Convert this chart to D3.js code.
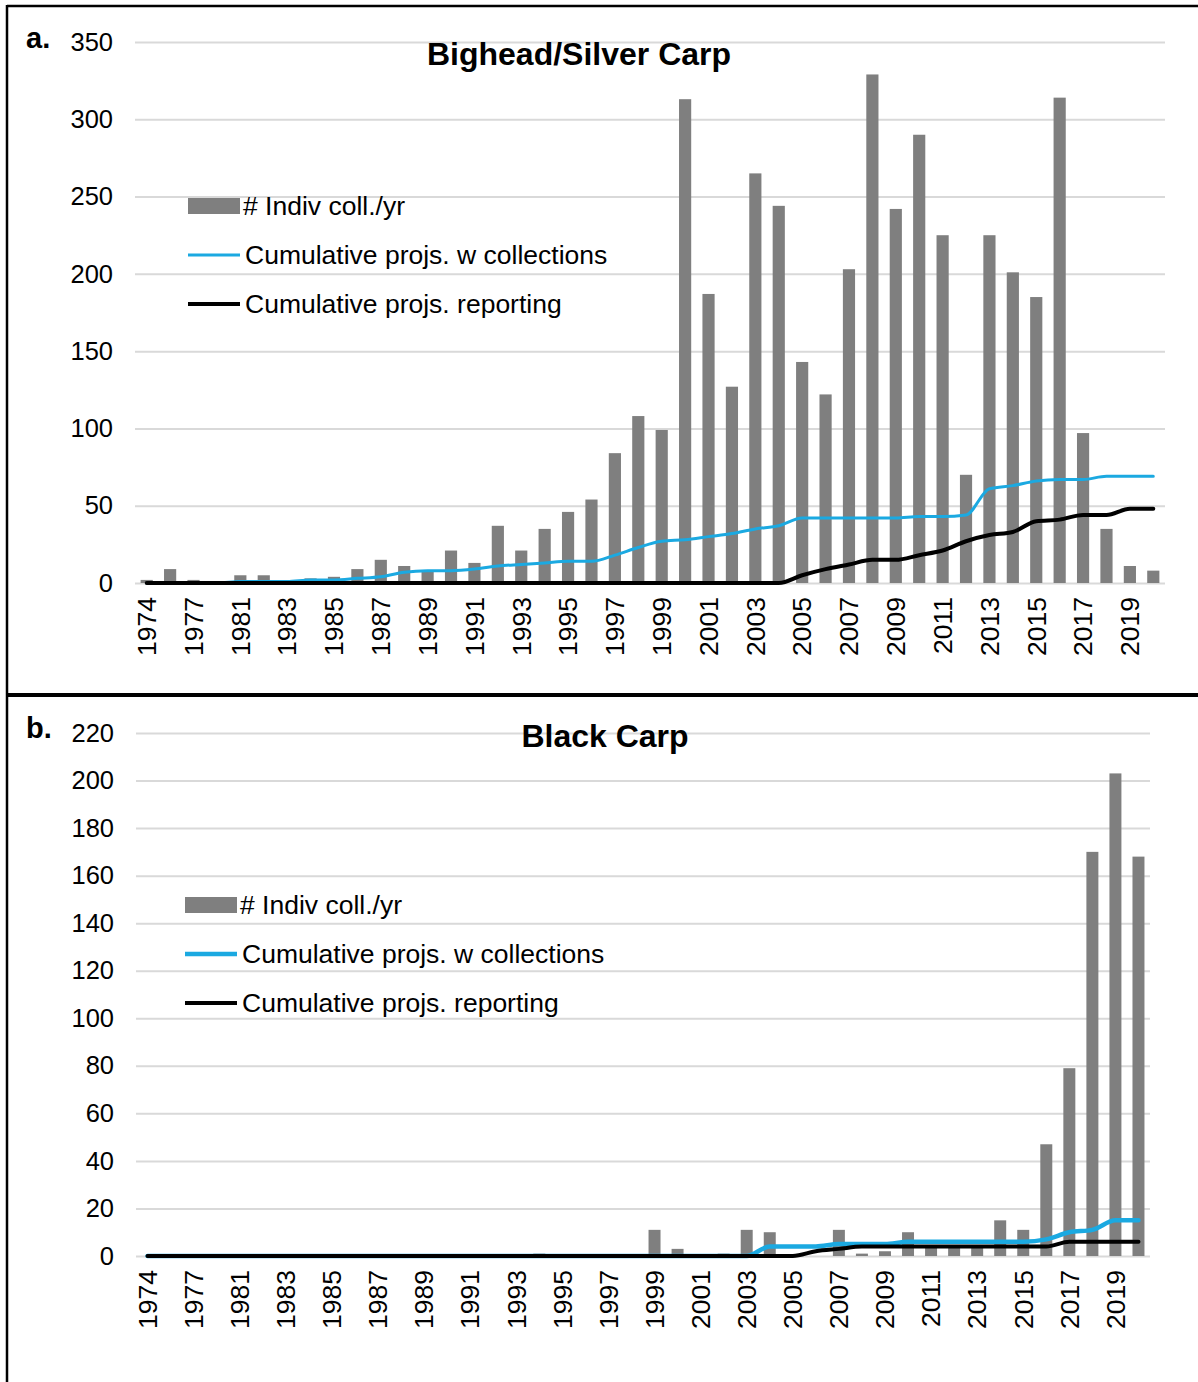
<!DOCTYPE html>
<html>
<head>
<meta charset="utf-8">
<script src="https://cdn.jsdelivr.net/npm/d3@7"></script>
<style>
  body { margin: 0; background: #fff; }
  svg { display: block; font-family: "Liberation Sans", Arial, sans-serif; }
</style>
</head>
<body>
<svg id="chart" width="1198" height="1382"></svg>
<script>
// categories (two years between 1974 and 1981 have hidden labels)
const years = ["1974", "1976", "1977", "1979", "1981", "1982", "1983", "1984", "1985", "1986",
  "1987", "1988", "1989", "1990", "1991", "1992", "1993", "1994", "1995", "1996",
  "1997", "1998", "1999", "2000", "2001", "2002", "2003", "2004", "2005", "2006",
  "2007", "2008", "2009", "2010", "2011", "2012", "2013", "2014", "2015", "2016",
  "2017", "2018", "2019", "2020"];
const tickLabels = years.filter((d, i) => i % 2 === 0);

// a. Bighead/Silver Carp
const bigheadIndiv = [2, 9, 2, 1, 5, 5, 1, 3, 4, 9, 15, 11, 8, 21, 13, 37, 21, 35, 46, 54,
  84, 108, 99, 313, 187, 127, 265, 244, 143, 122, 203, 329, 242, 290, 225, 70, 225, 201, 185, 314,
  97, 35, 11, 8];
const bigheadCollections = [0, 0, 0, 0, 1, 1, 1, 2, 2, 3, 4, 7, 8, 8, 9, 11, 12, 13, 14, 14,
  18, 23, 27, 28, 30, 32, 35, 37, 42, 42, 42, 42, 42, 43, 43, 44, 61, 63, 66, 67,
  67, 69, 69, 69];
const bigheadReporting = [0, 0, 0, 0, 0, 0, 0, 0, 0, 0, 0, 0, 0, 0, 0, 0, 0, 0, 0, 0,
  0, 0, 0, 0, 0, 0, 0, 0, 5, 9, 12, 15, 15, 18, 21, 27, 31, 33, 40, 41,
  44, 44, 48, 48];
const bigheadTicks = [0, 50, 100, 150, 200, 250, 300, 350];

// b. Black Carp
const blackIndiv = [0, 0, 0, 0, 0, 0, 0, 0, 0, 0, 0, 0, 0, 0, 0, 0, 0, 1, 0, 0,
  0, 0, 11, 3, 0, 1, 11, 10, 0, 0, 11, 1, 2, 10, 4, 4, 4, 15, 11, 47,
  79, 170, 203, 168];
const blackCollections = [0, 0, 0, 0, 0, 0, 0, 0, 0, 0, 0, 0, 0, 0, 0, 0, 0, 0, 0, 0,
  0, 0, 0, 0, 0, 0, 0, 4, 4, 4, 5, 5, 5, 6, 6, 6, 6, 6, 6, 7,
  10, 11, 15, 15];
const blackReporting = [0, 0, 0, 0, 0, 0, 0, 0, 0, 0, 0, 0, 0, 0, 0, 0, 0, 0, 0, 0,
  0, 0, 0, 0, 0, 0, 0, 0, 0, 2, 3, 4, 4, 4, 4, 4, 4, 4, 4, 4,
  6, 6, 6, 6];
const blackTicks = [0, 20, 40, 60, 80, 100, 120, 140, 160, 180, 200, 220];

const legendNames = ["# Indiv coll./yr", "Cumulative projs. w collections", "Cumulative projs. reporting"];

const barColor = "#7f7f7f";
const blueColor = "#1ba9e1";
const gridColor = "#d9d9d9";
const fontFamily = "Liberation Sans, Arial, sans-serif";

const svg = d3.select("#chart");

// frame
svg.append("line").attr("x1", 7).attr("x2", 1198).attr("y1", 6).attr("y2", 6)
  .attr("stroke", "#000").attr("stroke-width", 2.5);
svg.append("line").attr("x1", 7).attr("x2", 7).attr("y1", 5).attr("y2", 1382)
  .attr("stroke", "#000").attr("stroke-width", 2.5);
svg.append("line").attr("x1", 6).attr("x2", 1198).attr("y1", 695).attr("y2", 695)
  .attr("stroke", "#000").attr("stroke-width", 4);

function drawPanel(cfg) {
  const x = d3.scaleBand().domain(years).range([cfg.left, cfg.right]).paddingInner(0.48).paddingOuter(0.24);
  const y = d3.scaleLinear().domain([0, cfg.max]).range([cfg.bottom, cfg.top]);
  const g = svg.append("g");

  // gridlines
  g.append("g")
    .attr("transform", `translate(${cfg.left},0)`)
    .call(d3.axisLeft(y).tickValues(cfg.ticks).tickSize(-(cfg.right - cfg.left)).tickFormat(""))
    .call(a => a.select(".domain").remove())
    .call(a => a.selectAll("line").attr("stroke", gridColor).attr("stroke-width", 2));

  // y labels
  g.append("g")
    .attr("transform", `translate(${cfg.left - 22},0)`)
    .call(d3.axisLeft(y).tickValues(cfg.ticks).tickSize(0).tickPadding(0))
    .call(a => a.select(".domain").remove())
    .call(a => a.selectAll("text").attr("font-size", 25.5).attr("fill", "#000")
      .attr("font-family", fontFamily));

  // x labels
  g.append("g")
    .attr("transform", `translate(0,${cfg.bottom})`)
    .call(d3.axisBottom(x).tickValues(tickLabels).tickSize(0))
    .call(a => a.select(".domain").remove())
    .call(a => a.selectAll("text")
      .attr("font-size", 26.5).attr("fill", "#000")
      .attr("font-family", fontFamily)
      .attr("transform", "rotate(-90)")
      .attr("text-anchor", "end")
      .attr("x", -14).attr("y", 0).attr("dy", "0.35em"));

  // bars
  g.selectAll(".bar").data(years).enter().append("rect")
    .attr("class", "bar")
    .attr("x", d => x(d))
    .attr("width", x.bandwidth())
    .attr("y", (d, i) => y(cfg.indiv[i]))
    .attr("height", (d, i) => cfg.bottom - y(cfg.indiv[i]))
    .attr("fill", barColor);

  const line = d3.line()
    .x((d, i) => x(years[i]) + x.bandwidth() / 2)
    .y(d => y(d))
    .curve(d3.curveMonotoneX);

  g.append("path").datum(cfg.collections)
    .attr("d", line).attr("fill", "none")
    .attr("stroke", blueColor).attr("stroke-width", cfg.blueWidth).attr("stroke-linecap", "round");
  g.append("path").datum(cfg.reporting)
    .attr("d", line).attr("fill", "none")
    .attr("stroke", "#000").attr("stroke-width", 4).attr("stroke-linecap", "round");

  // title and panel letter
  g.append("text").attr("x", cfg.titleX).attr("y", cfg.titleY)
    .attr("text-anchor", "middle").attr("font-size", 32).attr("font-weight", "bold")
    .text(cfg.title);
  g.append("text").attr("x", 26).attr("y", cfg.letterY)
    .attr("font-size", 29).attr("font-weight", "bold").text(cfg.letter);

  // legend
  const lg = g.append("g").attr("transform", `translate(${cfg.legX},${cfg.legY})`);
  lg.append("rect").attr("x", 0).attr("y", -8).attr("width", 52).attr("height", 16).attr("fill", barColor);
  lg.append("line").attr("x1", 0).attr("x2", 52).attr("y1", 49).attr("y2", 49)
    .attr("stroke", blueColor).attr("stroke-width", cfg.blueWidth);
  lg.append("line").attr("x1", 0).attr("x2", 52).attr("y1", 98).attr("y2", 98)
    .attr("stroke", "#000").attr("stroke-width", 4);
  lg.selectAll(".legtext").data(legendNames).enter().append("text")
    .attr("x", (d, i) => i === 0 ? 55 : 57)
    .attr("y", (d, i) => i * 49)
    .attr("dy", "0.35em")
    .attr("font-size", 26.5)
    .text(d => d);
}

drawPanel({
  left: 135, right: 1165, top: 42, bottom: 583, max: 350, ticks: bigheadTicks,
  indiv: bigheadIndiv, collections: bigheadCollections, reporting: bigheadReporting,
  title: "Bighead/Silver Carp", titleX: 579, titleY: 65, letter: "a.", letterY: 48,
  legX: 188, legY: 206, blueWidth: 3
});

drawPanel({
  left: 136, right: 1150, top: 733, bottom: 1256, max: 220, ticks: blackTicks,
  indiv: blackIndiv, collections: blackCollections, reporting: blackReporting,
  title: "Black Carp", titleX: 605, titleY: 747, letter: "b.", letterY: 738,
  legX: 185, legY: 905, blueWidth: 4.5
});
</script>
</body>
</html>
